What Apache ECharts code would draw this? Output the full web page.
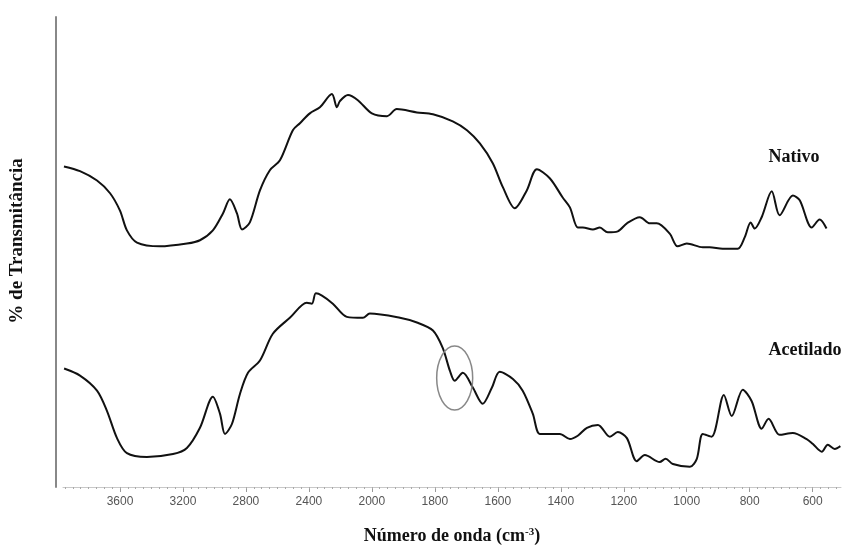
<!DOCTYPE html>
<html><head><meta charset="utf-8">
<script src="https://cdn.jsdelivr.net/npm/echarts@6/dist/echarts.min.js"></script>
<style>html,body{margin:0;padding:0;background:#fff}#c{width:848px;height:545px}</style>
</head><body><div id="c"></div>
<script>
// Wavenumbers (cm-1) and % transmittance
const nativoWn = [3956,3854,3746,3663,3600,3556,3492,3346,3175,3092,3010,2946,2902,2857,2825,2775,2711,2648,2584,2502,2457,2394,2330,2254,2222,2203,2152,2089,2000,1952,1921,1857,1806,1743,1698,1657,1616,1584,1546,1508,1476,1435,1394,1371,1346,1330,1298,1276,1251,1219,1190,1149,1117,1095,1054,1029,1000,949,927,886,838,816,797,784,762,730,705,663,641,603,578,556];
const nativoT = [68.2,67.2,65.2,62.5,58.8,54.6,52.0,51.2,51.8,52.5,54.6,58.2,61.2,58.2,54.8,56.3,63.1,67.4,69.5,75.9,77.4,79.5,80.8,83.6,80.8,82.1,83.4,82.3,79.5,78.9,80.4,79.7,79.3,77.8,75.9,73.1,68.9,63.8,59.3,63.1,67.6,65.7,61.6,59.5,55.2,55.2,54.8,55.2,54.2,54.4,56.1,57.4,56.1,56.1,53.9,51.2,51.8,51.0,51.0,50.7,50.7,53.1,56.3,55.0,57.4,62.9,57.8,62.0,61.0,55.2,56.9,55.0];
const acetWn = [3955,3854,3746,3683,3619,3556,3429,3263,3175,3092,3010,2965,2933,2889,2838,2787,2711,2629,2521,2413,2381,2356,2317,2248,2159,2057,2013,1911,1857,1806,1775,1752,1737,1711,1679,1648,1619,1594,1552,1521,1489,1467,1435,1403,1371,1346,1317,1282,1244,1219,1190,1159,1133,1086,1067,1044,990,968,949,921,882,857,822,794,762,740,705,663,619,600,571,552,530,512];
const acetT = [25.2,23.7,20.5,16.2,10.4,7.2,6.4,7.0,8.3,12.6,19.2,15.6,11.3,13.4,19.8,24.3,26.9,32.6,36.0,39.2,39.0,41.2,40.7,39.0,36.2,36.0,36.9,36.0,35.0,33.3,29.6,24.7,22.6,24.3,21.1,17.7,21.1,24.5,23.0,20.5,15.6,11.3,11.3,11.3,10.2,10.9,12.6,13.2,10.7,11.7,10.4,5.5,6.8,5.3,6.0,4.9,4.3,6.0,11.3,10.7,19.6,15.1,20.7,18.3,12.4,14.5,11.1,11.5,10.2,9.2,7.5,9.0,8.1,8.7];
const tickLabels = [3600,3200,2800,2400,2000,1800,1600,1400,1200,1000,800,600];
const seriesNames = ['Nativo','Acetilado'];
const circleWn = 1737, circleT = 23.2;
const xRangeWn = [3962, 510];

// split-scale axis: above 2000 cm-1 compressed by 2
function toAxis(wn){ return wn <= 2000 ? wn : 2000 + (wn - 2000) / 2; }
function fromAxis(t){ return t <= 2000 ? t : 2000 + (t - 2000) * 2; }

const minorTicks = [];
for (let w = 525; w <= 2000; w += 25) minorTicks.push(toAxis(w));
for (let w = 2050; w <= 3950; w += 50) minorTicks.push(toAxis(w));

const chart = echarts.init(document.getElementById('c'));
const xMin = toAxis(xRangeWn[1]), xMax = toAxis(xRangeWn[0]);
const serif = '"Liberation Serif","Times New Roman",serif';

chart.setOption({
  animation: false,
  backgroundColor: '#fff',
  grid: { left: 63, right: 7, top: 17, bottom: 58, containLabel: false, outerBoundsMode: 'none' },
  xAxis: [{
    type: 'value', inverse: true, min: xMin, max: xMax,
    position: 'bottom',
    axisLine: { show: true, lineStyle: { color: '#c8c8c8', width: 1 } },
    axisTick: { show: true, customValues: tickLabels.map(toAxis), length: 5, lineStyle: { color: '#999' } },
    axisLabel: { show: true, customValues: tickLabels.map(toAxis), formatter: v => String(Math.round(fromAxis(v))),
      color: '#555', fontSize: 12, fontFamily: '"Liberation Sans",Arial,sans-serif', margin: 9 },
    splitLine: { show: false },
    name: 'Número de onda (cm{sup|-3})',
    nameLocation: 'middle', nameGap: 40,
    nameTextStyle: { fontFamily: serif, fontWeight: 'bold', fontSize: 18, color: '#111',
      rich: { sup: { fontFamily: serif, fontWeight: 'bold', fontSize: 11, color: '#111', verticalAlign: 'top', padding: [0,0,8,0] } } }
  }, {
    type: 'value', inverse: true, min: xMin, max: xMax,
    position: 'bottom',
    axisLine: { show: false },
    axisTick: { show: true, customValues: minorTicks, length: 2, lineStyle: { color: '#aaa' } },
    axisLabel: { show: false },
    splitLine: { show: false }
  }],
  yAxis: {
    type: 'value', min: 0, max: 100, offset: 7,
    axisLine: { show: true, lineStyle: { color: '#888', width: 2 } },
    axisTick: { show: false }, axisLabel: { show: false }, splitLine: { show: false },
    name: '% de Transmitância', nameLocation: 'middle', nameGap: 29,
    nameTextStyle: { fontFamily: serif, fontWeight: 'bold', fontSize: 19, color: '#111', padding: [0, 0, 0, 22] }
  },
  series: [
    { name: seriesNames[0], type: 'line', showSymbol: false, smooth: 0.3,
      lineStyle: { color: '#111', width: 2 },
      data: nativoWn.map((w, i) => [toAxis(w), nativoT[i]]) },
    { name: seriesNames[1], type: 'line', showSymbol: false, smooth: 0.3,
      lineStyle: { color: '#111', width: 2 },
      data: acetWn.map((w, i) => [toAxis(w), acetT[i]]) }
  ]
});

const c = chart.convertToPixel({ xAxisIndex: 0, yAxisIndex: 0 }, [toAxis(circleWn), circleT]);
chart.setOption({
  graphic: [
    { type: 'ellipse', shape: { cx: c[0], cy: c[1], rx: 18, ry: 32 },
      style: { fill: 'none', stroke: '#888', lineWidth: 1.5 }, z: 10 },
    { type: 'text', style: { text: seriesNames[0], x: 794, y: 157, textAlign: 'center', textVerticalAlign: 'middle',
      font: 'bold 18px ' + serif, fill: '#111' } },
    { type: 'text', style: { text: seriesNames[1], x: 805, y: 350, textAlign: 'center', textVerticalAlign: 'middle',
      font: 'bold 18px ' + serif, fill: '#111' } }
  ]
});
</script>
</body></html>
